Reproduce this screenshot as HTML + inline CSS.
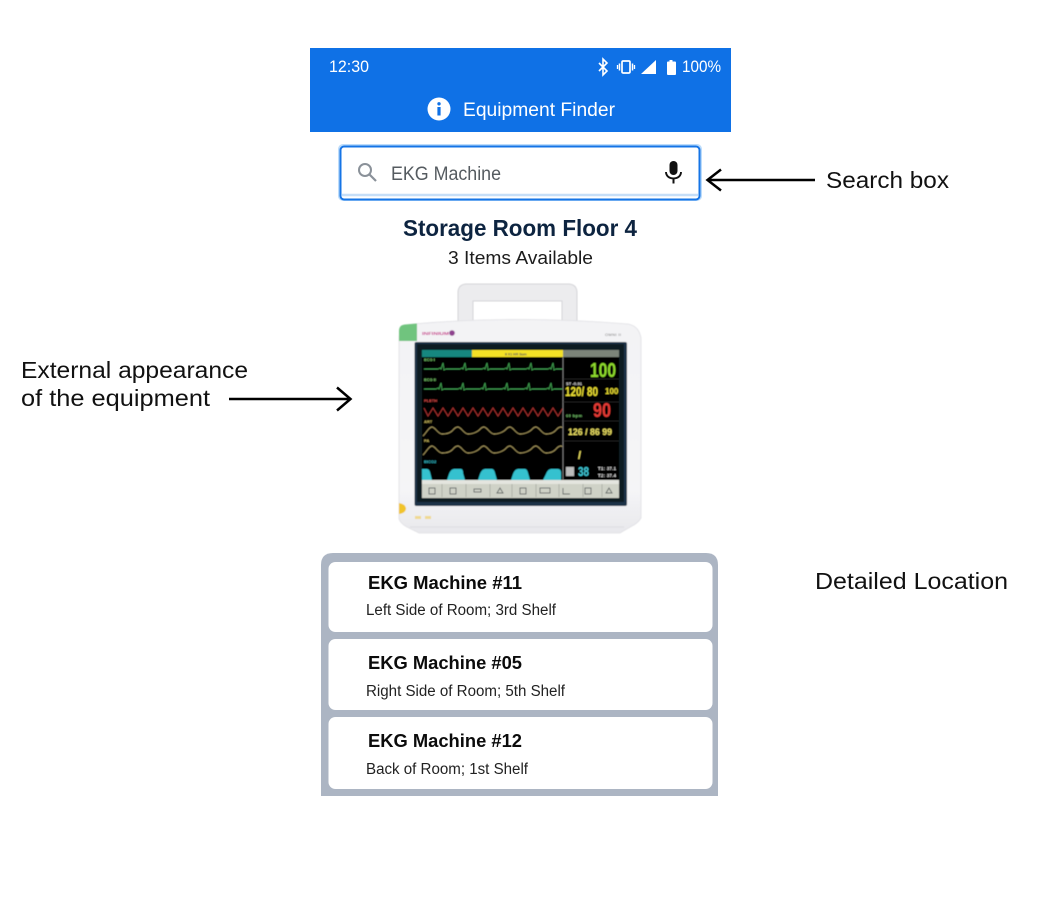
<!DOCTYPE html>
<html>
<head>
<meta charset="utf-8">
<style>
html,body{margin:0;padding:0;background:#fff;width:1052px;height:902px;overflow:hidden}
svg{display:block}
text{font-family:"Liberation Sans",sans-serif}
</style>
</head>
<body>
<svg width="1052" height="902" viewBox="0 0 1052 902" xmlns="http://www.w3.org/2000/svg">
<defs>
<filter id="b"><feGaussianBlur stdDeviation="0.5"/></filter>
<clipPath id="wv"><rect x="422" y="357" width="140.500" height="123"/></clipPath>
<linearGradient id="body" x1="0" y1="0" x2="0" y2="1"><stop offset="0" stop-color="#f3f3f5"/><stop offset="0.8" stop-color="#f5f5f7"/><stop offset="1" stop-color="#e8e8ec"/></linearGradient>
</defs>
<rect width="1052" height="902" fill="#fff"/>

<!-- App bar -->
<rect x="310" y="48" width="421" height="84" fill="#0f71e6"/>
<text x="329" y="72" font-size="16.500" fill="#fff" textLength="40" lengthAdjust="spacingAndGlyphs">12:30</text>
<path d="M599 63l8 8-4 4V59l4 4-8 8" fill="none" stroke="#fff" stroke-width="1.600"/>
<rect x="622" y="61" width="8" height="12" rx="1.200" fill="none" stroke="#fff" stroke-width="1.700"/>
<path d="M619.500 63.500v7M632.500 63.500v7" stroke="#fff" stroke-width="1.500"/>
<path d="M617.500 65v4M634.500 65v4" stroke="#fff" stroke-width="1.300"/>
<path d="M641 74L656 60V74Z" fill="#fff"/>
<path d="M667 62.500a1 1 0 0 1 1-1h1.500V60h3v1.500H675a1 1 0 0 1 1 1V74a1 1 0 0 1-1 1h-7a1 1 0 0 1-1-1Z" fill="#fff"/>
<text x="682" y="72" font-size="16.500" fill="#fff" textLength="39" lengthAdjust="spacingAndGlyphs">100%</text>
<circle cx="439" cy="109" r="11.500" fill="#fff"/>
<circle cx="439" cy="103.800" r="1.700" fill="#0f71e6"/>
<rect x="437.400" y="107" width="3.200" height="8.500" fill="#0f71e6"/>
<text x="463" y="116" font-size="19" fill="#fff" textLength="152" lengthAdjust="spacingAndGlyphs">Equipment Finder</text>

<!-- Search box -->
<rect x="339" y="145" width="362" height="55" rx="4" fill="#fff" stroke="#bcdcfb" stroke-width="2"/>
<rect x="340.500" y="146.500" width="359" height="53" rx="3.500" fill="#fff" stroke="#1574e6" stroke-width="2"/>
<path d="M342 195H698" stroke="#c5def8" stroke-width="2.500"/>
<circle cx="365" cy="170" r="6" fill="none" stroke="#8a9199" stroke-width="2"/>
<path d="M369.500 174.500L376 181" stroke="#8a9199" stroke-width="2.200"/>
<text x="391" y="180" font-size="19" fill="#555b60" textLength="110" lengthAdjust="spacingAndGlyphs">EKG Machine</text>
<rect x="669.500" y="161" width="8" height="14" rx="4" fill="#111"/>
<path d="M666 172c0 4 3.400 6.400 7.500 6.400s7.500-2.400 7.500-6.400" fill="none" stroke="#111" stroke-width="1.900"/>
<rect x="672.500" y="178" width="2" height="5.500" fill="#111"/>

<path d="M815 180H708M721 169.500L707.500 180L721 190.500" fill="none" stroke="#000" stroke-width="2.500"/>
<text x="826" y="188" font-size="23.500" fill="#111" textLength="123" lengthAdjust="spacingAndGlyphs">Search box</text>

<text x="403" y="236" font-size="23" font-weight="bold" fill="#0d2440" textLength="234" lengthAdjust="spacingAndGlyphs">Storage Room Floor 4</text>
<text x="448" y="264" font-size="18" fill="#1c1c1c" textLength="145" lengthAdjust="spacingAndGlyphs">3 Items Available</text>

<text x="21" y="378" font-size="23.500" fill="#111" textLength="227" lengthAdjust="spacingAndGlyphs">External appearance</text>
<text x="21" y="406" font-size="23.500" fill="#111" textLength="189" lengthAdjust="spacingAndGlyphs">of the equipment</text>
<path d="M229 399H350M337 387.500L350.500 399L337 410.500" fill="none" stroke="#000" stroke-width="2.500"/>

<!-- Monitor -->
<g filter="url(#b)">
<path d="M458 322V293q0-9 9-9H568q9 0 9 9V322H562V301H473V322Z" fill="#ececee" stroke="#d4d4d8" stroke-width="1"/>
<path d="M399 338q0-13 14-14Q520 315 628 324q11 2 13 14V518q-3 5-9 8L620 533H419l-12-6q-6-3-8-8Z" fill="url(#body)" stroke="#e0e0e4" stroke-width="0.800"/>
<path d="M399 341V331q0-6 6-6.500L417 323.500V341Z" fill="#6fc47e"/>
<rect x="414.500" y="342" width="212.500" height="164" rx="2" fill="#1e3346"/>
<rect x="417" y="344" width="207" height="158" fill="#101a22"/>
<rect x="422" y="350" width="197" height="130" fill="#020202"/>
<rect x="422" y="350" width="50" height="7" fill="#15877f"/>
<rect x="472" y="350" width="91" height="7" fill="#f3e128"/>
<rect x="563" y="350" width="56" height="7" fill="#7c8479"/>
<rect x="422" y="480" width="197" height="18" fill="#cfd2c7"/>
<rect x="422" y="480" width="197" height="4" fill="#e4e5df"/>
<path d="M563 357V480" stroke="#8c8c8c" stroke-width="0.800"/>
<path d="M563 441H619M563 379H619M563 402H619M563 421H619" stroke="#3a3a3a" stroke-width="0.600"/>
<g stroke="#9a9d92" stroke-width="0.600"><path d="M442 484v13M466 484v13M490 484v13M512 484v13M536 484v13M559 484v13M583 484v13M602 484v13"/></g>
<g fill="none" stroke="#5b6260" stroke-width="0.900"><rect x="429" y="488" width="6" height="6"/><rect x="450" y="488" width="6" height="6"/><rect x="474" y="489" width="7" height="3"/><path d="M497 493l3-5 3 5z"/><rect x="520" y="488" width="6" height="6"/><rect x="540" y="488" width="10" height="5"/><path d="M563 488v6h7"/><rect x="585" y="488" width="6" height="6"/><path d="M606 493l3-5 3 5z"/></g>
<g clip-path="url(#wv)">
<g fill="none" stroke="#3f9e4f" stroke-width="0.900">
<path d="M424 369h14l2-1 1 1 2-6 1 7 2-1h14l2-1 1 1 2-6 1 7 2-1h14l2-1 1 1 2-6 1 7 2-1h14l2-1 1 1 2-6 1 7 2-1h14l2-1 1 1 2-6 1 7 2-1h14l2-1 1 1 2-6 1 7 2-1h30"/>
<path d="M424 389h12l2-1 1 1 2-6 1 7 2-1h14l2-1 1 1 2-6 1 7 2-1h14l2-1 1 1 2-6 1 7 2-1h14l2-1 1 1 2-6 1 7 2-1h14l2-1 1 1 2-6 1 7 2-1h14l2-1 1 1 2-6 1 7 2-1h30"/>
</g>
<path d="M424 408l4 8 5-8 5 8 5-8 5 8 5-8 5 8 5-8 5 8 5-8 5 8 5-8 5 8 5-8 5 8 5-8 5 8 5-8 5 8 5-8 5 8 5-8 5 8 5-8 5 8 5-8 5 8 5-8 5 8" fill="none" stroke="#a4302f" stroke-width="1"/>
<g fill="none" stroke="#a99a5e" stroke-width="0.900">
<path d="M423 436c3-3 6-9 9-9s6 7 10 7 8-1 10-3 3-4 6-4 6 7 10 7 7-1 10-3 3-4 6-4 6 7 10 7 7-1 10-3 3-4 6-4 6 7 10 7 7-1 10-3 3-4 6-4 6 7 10 7 7-1 9-3 3-4 6-4 6 7 10 7"/>
<path d="M423 455c3-3 6-9 9-9s6 7 10 7 8-1 10-3 3-4 6-4 6 7 10 7 7-1 10-3 3-4 6-4 6 7 10 7 7-1 10-3 3-4 6-4 6 7 10 7 7-1 10-3 3-4 6-4 6 7 10 7 7-1 9-3 3-4 6-4 6 7 10 7"/>
</g>
</g>
<path d="M422 469h5q2 0 3 3l2 8H422ZM447 480l2-6q2-5 5-5h7q2 0 2 4l2 7ZM478 480l2-6q2-5 5-5h7q2 0 3 4l2 7ZM511 480l2-6q2-5 5-5h7q2 0 3 4l2 7ZM543 480l3-6q2-5 5-5h7q3 0 3 4v7Z" fill="#36c1cf"/>
<g font-weight="bold">
<text x="590" y="377" font-size="20" fill="#8fdc2e" textLength="26" lengthAdjust="spacingAndGlyphs">100</text>
<text x="565" y="396" font-size="13" fill="#f0e334" textLength="33" lengthAdjust="spacingAndGlyphs">120/ 80</text>
<text x="605" y="394" font-size="8" fill="#f0e334">100</text>
<text x="593" y="417" font-size="20" fill="#e43a36" textLength="18" lengthAdjust="spacingAndGlyphs">90</text>
<text x="568" y="435" font-size="9" fill="#eee264" textLength="44" lengthAdjust="spacingAndGlyphs">126 / 86  99</text>
<text x="578" y="459" font-size="11" fill="#eee264">/</text>
<text x="578" y="476" font-size="13" fill="#3fc9d8" textLength="11" lengthAdjust="spacingAndGlyphs">38</text>
<text x="598" y="470" font-size="4.500" fill="#ddd" textLength="18">T1: 37.1</text>
<text x="598" y="477" font-size="4.500" fill="#ddd" textLength="18">T2: 37.4</text>
<text x="566" y="417" font-size="4" fill="#77c86c" textLength="16">60 bpm</text>
<text x="566" y="385" font-size="4" fill="#e8e8e8" textLength="16">ST -0.01</text>
<text x="424" y="361" font-size="4" fill="#7ccf6c">ECG I</text>
<text x="424" y="381" font-size="4" fill="#7ccf6c">ECG II</text>
<text x="424" y="402" font-size="4" fill="#d84a46">PLETH</text>
<text x="424" y="423" font-size="4" fill="#c9b95c">ART</text>
<text x="424" y="442" font-size="4" fill="#c9b95c">PA</text>
<text x="424" y="463" font-size="4" fill="#36c1cf">EtCO2</text>
<text x="505" y="355.500" font-size="3.500" fill="#555">II  X1  HR Sum</text>
</g>
<rect x="566" y="467" width="8" height="9" fill="#bbb"/>
<text x="422" y="335" font-size="4.500" font-weight="bold" fill="#c9388e" textLength="27" lengthAdjust="spacingAndGlyphs">INFINIUM</text>
<circle cx="452" cy="333" r="2.800" fill="#8e3f8e"/>
<text x="605" y="336" font-size="4" fill="#777" textLength="16">OMNI II</text>
<path d="M399 503q6 1 7 5 0 5-7 6Z" fill="#f1c42b"/>
<rect x="415" y="516" width="6" height="3" fill="#f0d990"/>
<rect x="425" y="516" width="6" height="3" fill="#f0d990"/>
<path d="M410 527H624" stroke="#dedee2" stroke-width="1.200"/>
</g>

<!-- List -->
<path d="M321 796V565q0-12 12-12H706q12 0 12 12V796Z" fill="#acb5c3"/>
<rect x="328.500" y="562" width="384" height="70" rx="7" fill="#fff"/>
<rect x="328.500" y="639" width="384" height="71" rx="7" fill="#fff"/>
<rect x="328.500" y="717" width="384" height="72" rx="7" fill="#fff"/>
<text x="368" y="589" font-size="18.500" font-weight="bold" fill="#0b0b0b" textLength="154" lengthAdjust="spacingAndGlyphs">EKG Machine #11</text>
<text x="366" y="615" font-size="15.500" fill="#222" textLength="190" lengthAdjust="spacingAndGlyphs">Left Side of Room; 3rd Shelf</text>
<text x="368" y="669" font-size="18.500" font-weight="bold" fill="#0b0b0b" textLength="154" lengthAdjust="spacingAndGlyphs">EKG Machine #05</text>
<text x="366" y="696" font-size="15.500" fill="#222" textLength="199" lengthAdjust="spacingAndGlyphs">Right Side of Room; 5th Shelf</text>
<text x="368" y="747" font-size="18.500" font-weight="bold" fill="#0b0b0b" textLength="154" lengthAdjust="spacingAndGlyphs">EKG Machine #12</text>
<text x="366" y="774" font-size="15.500" fill="#222" textLength="162" lengthAdjust="spacingAndGlyphs">Back of Room; 1st Shelf</text>

<text x="815" y="589" font-size="23.500" fill="#111" textLength="193" lengthAdjust="spacingAndGlyphs">Detailed Location</text>
</svg>
</body>
</html>
